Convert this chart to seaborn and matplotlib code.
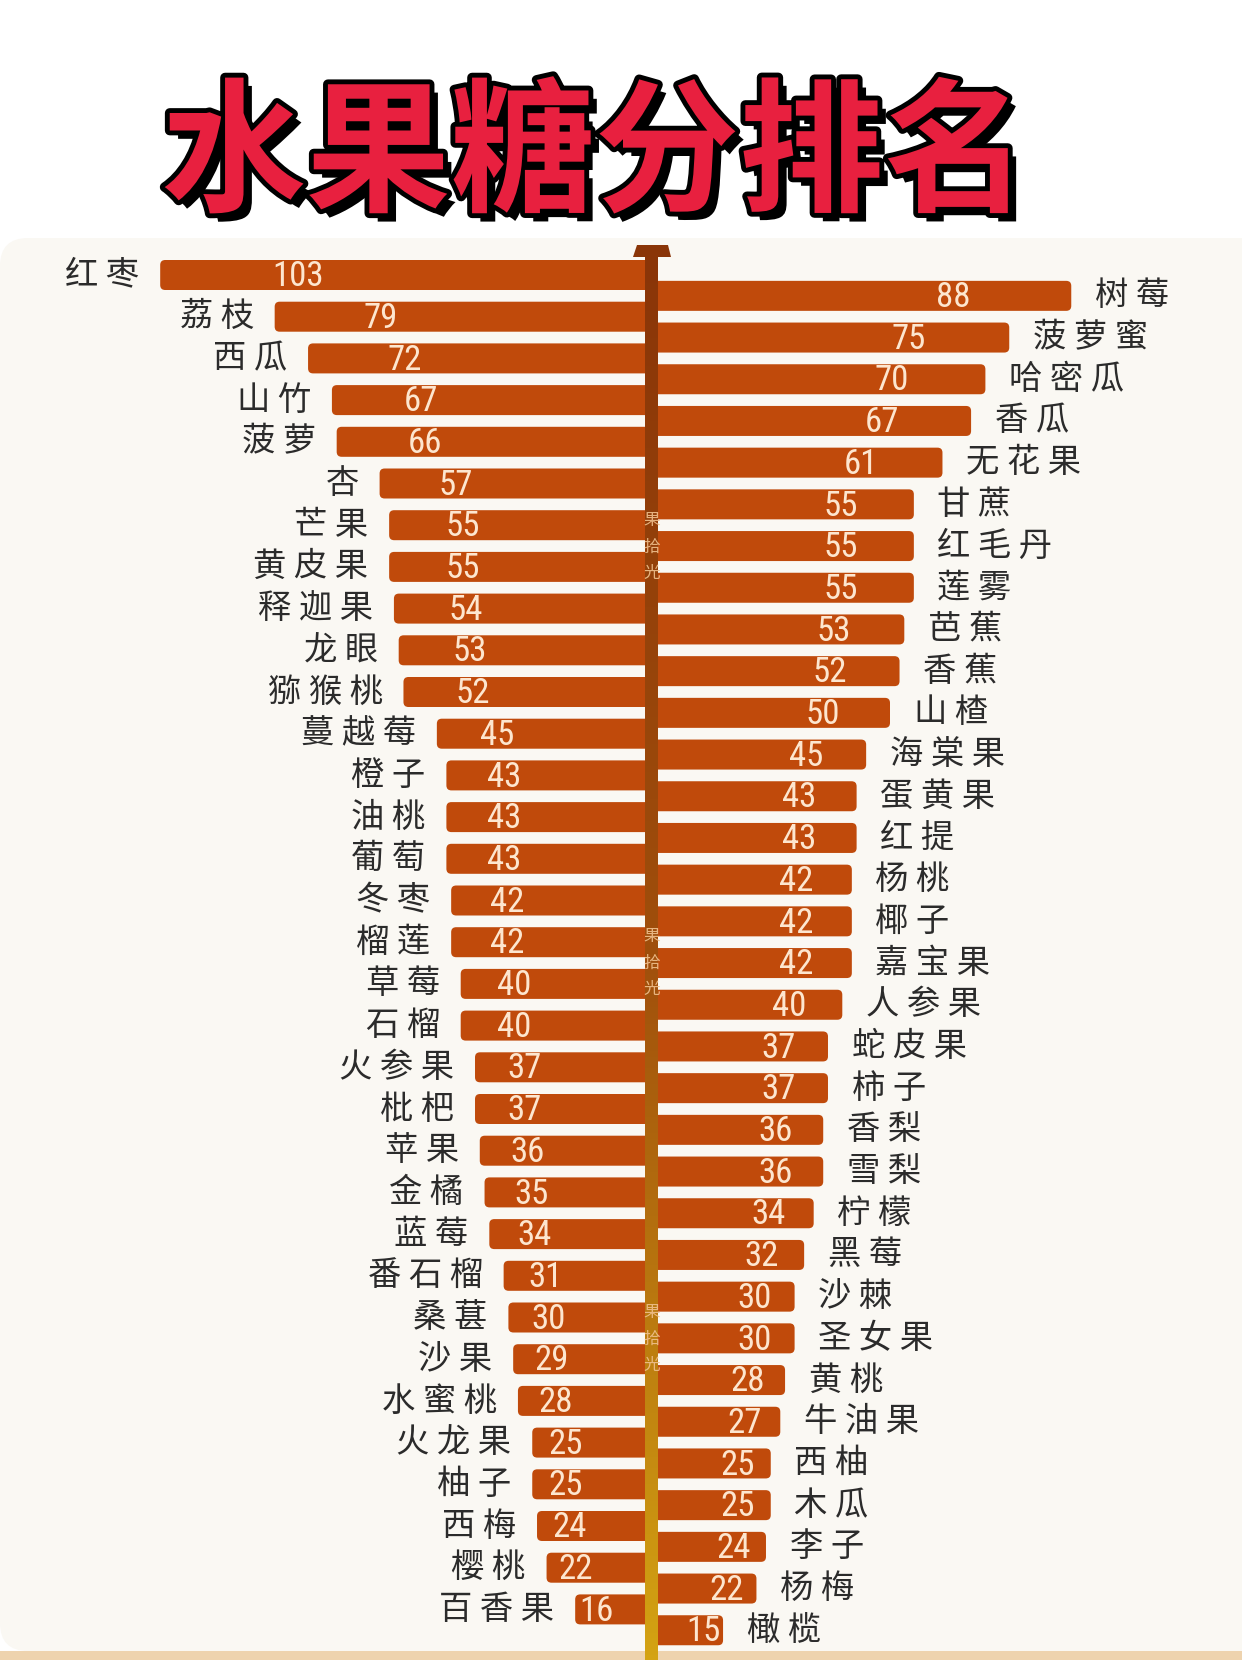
import numpy as np
import pandas as pd
import matplotlib
matplotlib.use("Agg")
import matplotlib.pyplot as plt
import seaborn as sns
from matplotlib.patches import FancyBboxPatch, Rectangle, Polygon
from matplotlib.colors import LinearSegmentedColormap
from matplotlib import patheffects as pe
from matplotlib.transforms import IdentityTransform
from matplotlib import font_manager as fm

# ---------------- data ----------------
title = "水果糖分排名"
left_names = ["红枣", "荔枝", "西瓜", "山竹", "菠萝", "杏", "芒果", "黄皮果", "释迦果", "龙眼",
              "猕猴桃", "蔓越莓", "橙子", "油桃", "葡萄", "冬枣", "榴莲", "草莓", "石榴", "火参果",
              "枇杷", "苹果", "金橘", "蓝莓", "番石榴", "桑葚", "沙果", "水蜜桃", "火龙果", "柚子",
              "西梅", "樱桃", "百香果"]
left_values = [103, 79, 72, 67, 66, 57, 55, 55, 54, 53,
               52, 45, 43, 43, 43, 42, 42, 40, 40, 37,
               37, 36, 35, 34, 31, 30, 29, 28, 25, 25,
               24, 22, 16]
right_names = ["树莓", "菠萝蜜", "哈密瓜", "香瓜", "无花果", "甘蔗", "红毛丹", "莲雾", "芭蕉", "香蕉",
               "山楂", "海棠果", "蛋黄果", "红提", "杨桃", "椰子", "嘉宝果", "人参果", "蛇皮果", "柿子",
               "香梨", "雪梨", "柠檬", "黑莓", "沙棘", "圣女果", "黄桃", "牛油果", "西柚", "木瓜",
               "李子", "杨梅", "橄榄"]
right_values = [88, 75, 70, 67, 61, 55, 55, 55, 53, 52,
                50, 45, 43, 43, 42, 42, 42, 40, 37, 37,
                36, 36, 34, 32, 30, 30, 28, 27, 25, 25,
                24, 22, 15]
watermark = "果拾光"

# ---------------- style ----------------
W, H, DPI = 1242, 1660, 100
BAR = "#c04a0b"
CX_PX = 651.5          # pixel x of the centre axis
UNIT_PX = 4.77         # pixels per sugar unit
Y0_PX = 275.0          # pixel y of first slot
SLOT_PX = 20.85        # pixels per slot

sns.set_theme(style="white")
plt.rcParams["font.family"] = ["Noto Sans CJK SC", "DejaVu Sans"]

avail = {f.name for f in fm.fontManager.ttflist}
num_family = None
for cand in ["Liberation Sans Narrow", "Roboto Condensed", "DejaVu Sans"]:
    if cand in avail:
        num_family = cand
        break

def px_to_x(px):
    return (px - CX_PX) / UNIT_PX

def px_to_y(py):
    return (py - Y0_PX) / SLOT_PX

# long table, interleaved left/right
order, vals, sides = [], [], []
for i in range(len(left_names)):
    order += [left_names[i], right_names[i]]
    vals += [-left_values[i], right_values[i]]
    sides += ["L", "R"]
df = pd.DataFrame({"name": order, "value": vals, "side": sides})

fig = plt.figure(figsize=(W / DPI, H / DPI), dpi=DPI, facecolor="white")

# background card (behind the axes)
fig.patches.append(Rectangle((0, 0), W, 9, transform=IdentityTransform(),
                             facecolor="#eed3ae", edgecolor="none", zorder=-2))
fig.patches.append(FancyBboxPatch((0, 9), W + 60, H - 9 - 238,
                                  boxstyle="round,pad=0,rounding_size=28",
                                  transform=IdentityTransform(),
                                  facecolor="#faf8f3", edgecolor="none", zorder=-1))

ax = fig.add_axes([0, 0, 1, 1])
ax.set_facecolor("none")
ax.set_zorder(1)

sns.barplot(data=df, x="value", y="name", order=order, orient="h",
            color=BAR, saturation=1, width=30 / SLOT_PX, ax=ax, zorder=2)

# round the bar corners
rpx = 5.0
for p in list(ax.patches):
    x, w = p.get_x(), p.get_width()
    y, h = p.get_y(), p.get_height()
    x0, ww = min(x, x + w), abs(w)
    fb = FancyBboxPatch((x0, y), ww, h,
                        boxstyle=f"round,pad=0,rounding_size={rpx / UNIT_PX}",
                        mutation_aspect=UNIT_PX / SLOT_PX,
                        facecolor=BAR, edgecolor="none", zorder=2)
    p.remove()
    ax.add_patch(fb)

# value labels and names
for i, row in df.iterrows():
    v = row["value"]
    slot = i
    ax.text(0.72 * v, slot + 0.08, f"{abs(v)}", ha="center", va="center",
            color="#fde6cf", fontsize=25, family=[num_family],
            fontstretch="condensed", zorder=4)
    label = " ".join(list(row["name"]))
    if v < 0:
        ax.annotate(label, xy=(v, slot), xytext=(-15, 0), textcoords="offset points",
                    ha="right", va="center", fontsize=24, color="#2b2b2b",
                    fontweight="light", zorder=4)
    else:
        ax.annotate(label, xy=(v, slot), xytext=(17, 0), textcoords="offset points",
                    ha="left", va="center", fontsize=24, color="#2b2b2b",
                    fontweight="light", zorder=4)

# centre axis with gradient
cmap = LinearSegmentedColormap.from_list("axisgrad", ["#8a3508", "#a04f0c", "#d4a313"])
grad = np.linspace(0, 1, 256).reshape(-1, 1)
ax.imshow(grad, cmap=cmap, aspect="auto", origin="upper",
          extent=[px_to_x(645), px_to_x(658), px_to_y(H), px_to_y(256)], zorder=3)
arrow = Polygon([(px_to_x(633), px_to_y(257)), (px_to_x(637), px_to_y(245)),
                 (px_to_x(668), px_to_y(245)), (px_to_x(671), px_to_y(257))],
                closed=True, facecolor="#8a3508", edgecolor="none", zorder=3)
ax.add_patch(arrow)

# watermark
for cy in [547, 963, 1339]:
    ax.text(px_to_x(CX_PX), px_to_y(cy), "\n".join(watermark), ha="center", va="center",
            fontsize=12, color="#f0c08e", linespacing=1.75, zorder=4, alpha=0.9)

ax.set_xlim(px_to_x(0), px_to_x(W))
ax.set_ylim(px_to_y(H), px_to_y(0))
ax.axis("off")

# title
fig.text(595 / W, 1 - 158 / H, title, ha="center", va="center",
         fontsize=104, fontweight="black", color="#e8203f",
         path_effects=[pe.withSimplePatchShadow(offset=(6, -6), shadow_rgbFace="black", alpha=1),
                       pe.Stroke(linewidth=7, foreground="black"), pe.Normal()])

fig.savefig("out.png", dpi=DPI, facecolor="white")
